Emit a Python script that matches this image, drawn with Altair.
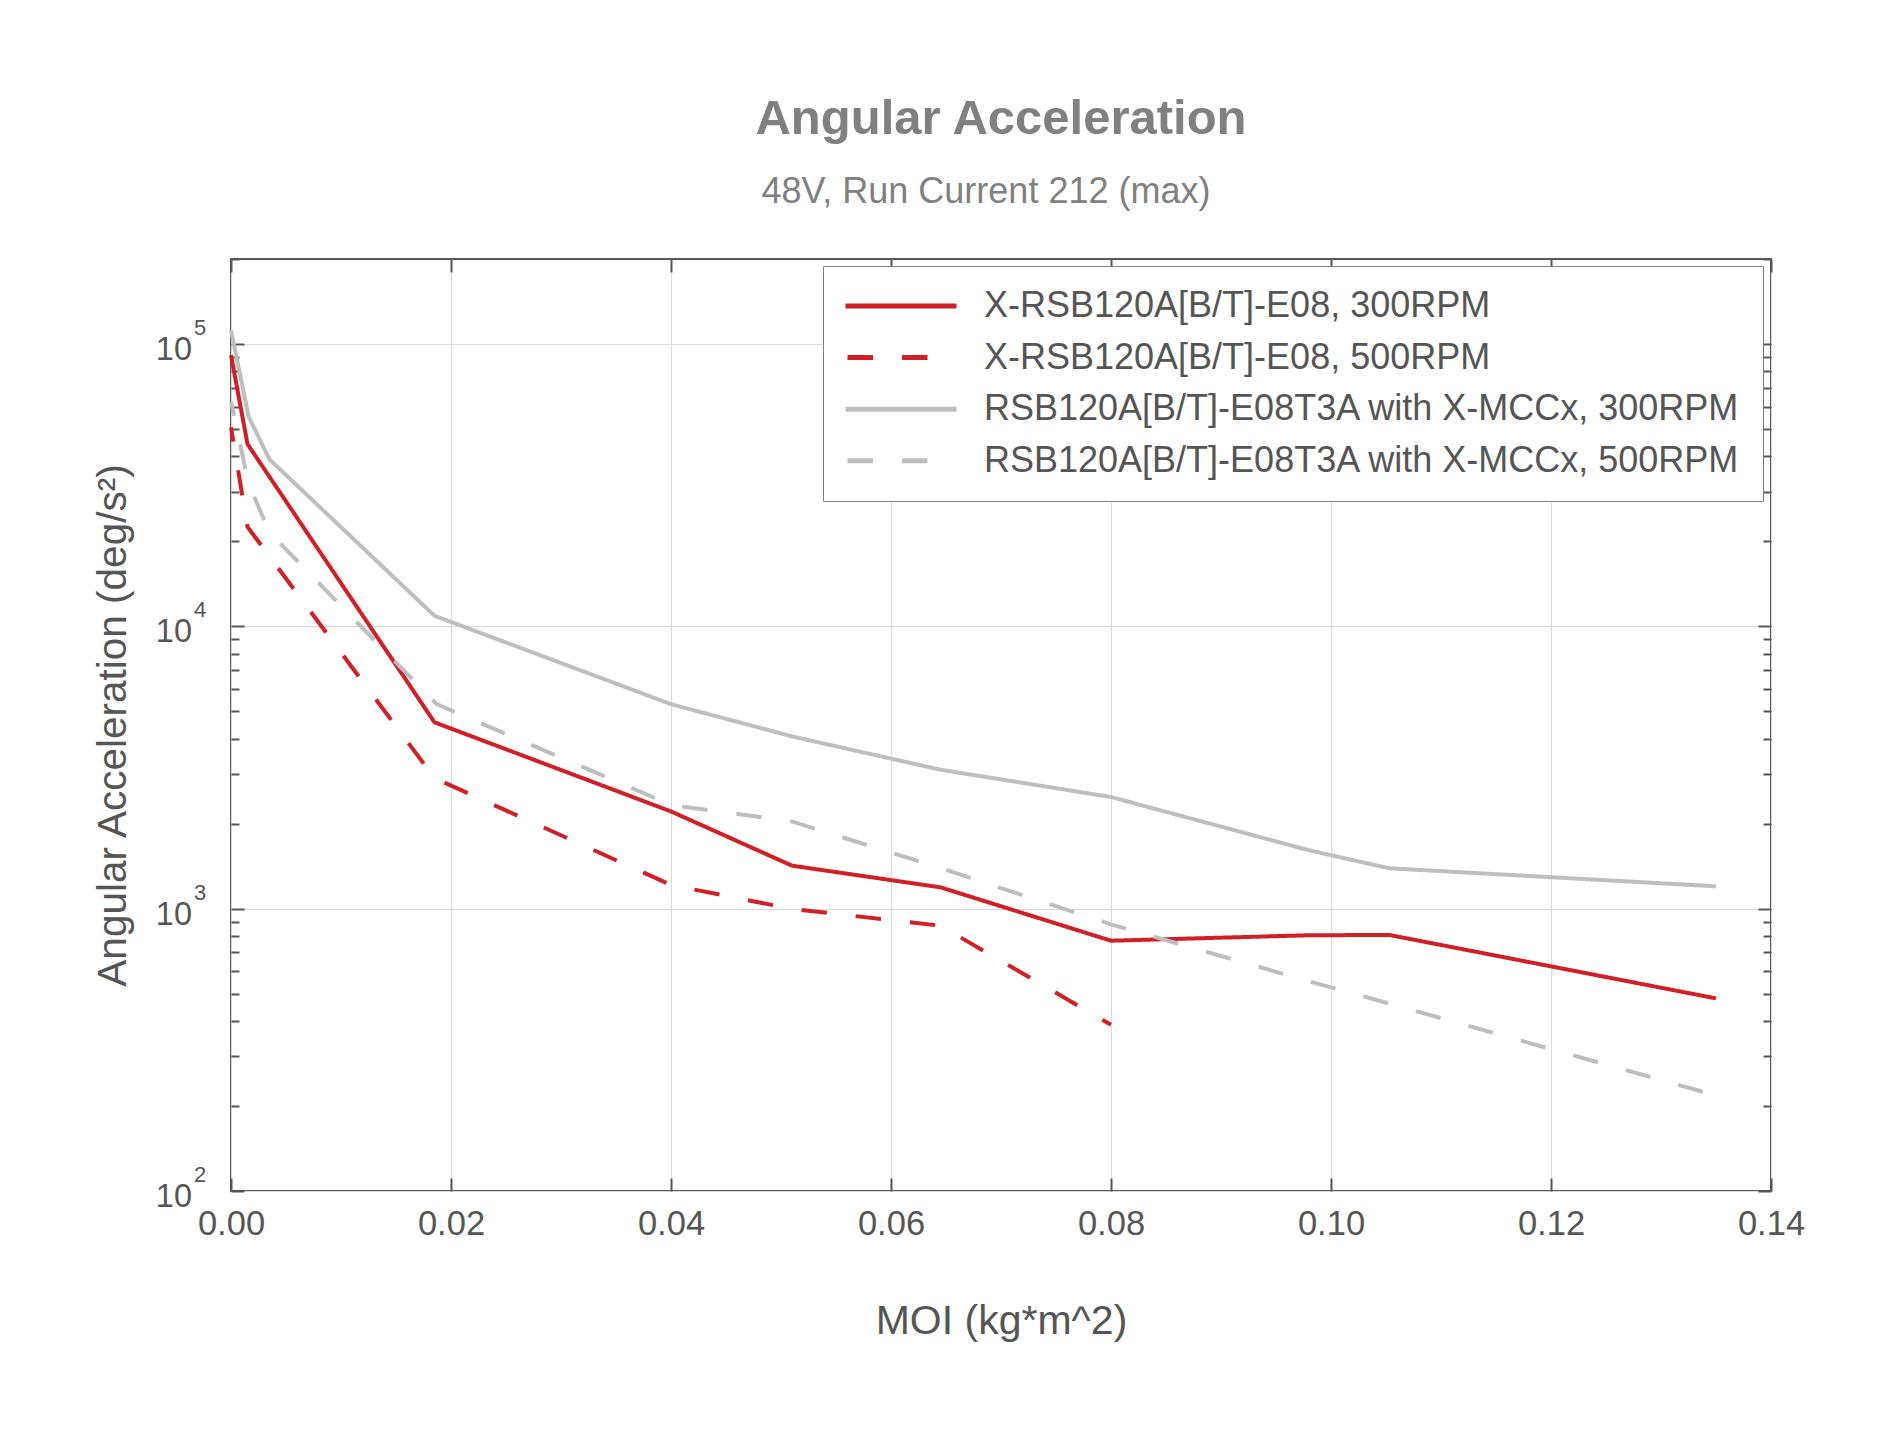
import altair as alt
import pandas as pd

# ---------------- data ----------------
series_names = [
    "X-RSB120A[B/T]-E08, 300RPM",
    "X-RSB120A[B/T]-E08, 500RPM",
    "RSB120A[B/T]-E08T3A with X-MCCx, 300RPM",
    "RSB120A[B/T]-E08T3A with X-MCCx, 500RPM",
]

moi_red300 = [0.0, 0.0015, 0.0185, 0.040, 0.051, 0.0645, 0.080, 0.098, 0.1053, 0.135]
acc_red300 = [91400, 44200, 4570, 2210, 1420, 1190, 770, 805, 807, 481]

moi_red500 = [0.0, 0.0015, 0.0185, 0.040, 0.051, 0.0645, 0.080]
acc_red500 = [50700, 22500, 2900, 1213, 998, 870, 388]

moi_grey300 = [0.0, 0.0016, 0.0035, 0.0185, 0.040, 0.051, 0.0645, 0.080, 0.098, 0.1053, 0.135]
acc_grey300 = [112000, 55300, 39000, 10900, 5300, 4075, 3105, 2486, 1610, 1390, 1200]

moi_grey500 = [0.0, 0.0016, 0.0035, 0.0187, 0.040, 0.051, 0.0645, 0.080, 0.098, 0.1053, 0.135]
acc_grey500 = [62500, 32000, 21500, 5300, 2330, 2037, 1393, 880, 553, 461, 218]

x_tick_values = [0.0, 0.02, 0.04, 0.06, 0.08, 0.10, 0.12, 0.14]
y_decades = [100, 1000, 10000, 100000]
y_exponents = ["2", "3", "4", "5"]
y_minor_mult = [1, 2, 3, 4, 5, 6, 7, 8, 9]

title_text = "Angular Acceleration"
subtitle_text = "48V, Run Current 212 (max)"
x_title = "MOI (kg*m^2)"
y_title = "Angular Acceleration (deg/s²)"

# ---------------- build tables ----------------
rows = []
for name, xs_, ys_ in zip(series_names,
                          [moi_red300, moi_red500, moi_grey300, moi_grey500],
                          [acc_red300, acc_red500, acc_grey300, acc_grey500]):
    for i, (xv, yv) in enumerate(zip(xs_, ys_)):
        rows.append({"series": name, "moi": xv, "acc": yv, "idx": i})
df = pd.DataFrame(rows)

df_dec = pd.DataFrame({"acc": y_decades, "exp": y_exponents, "base": ["10"] * 4})
df_sub = pd.DataFrame({"t": [subtitle_text]})

y_tick_values = [m * d for d in y_decades for m in y_minor_mult] + [200000]

W, H = 1540, 932
XDOM = [0, 0.14]
YDOM = [100, 200000]
FONT = "Liberation Sans"
DARK = "#555555"
GREY_TXT = "#808080"

colors = ["#d21f26", "#d21f26", "#bebebe", "#bebebe"]
dashes = [[1, 0], [25.5, 29], [1, 0], [25.5, 29]]

xs = alt.Scale(domain=XDOM, nice=False, zero=False)
ys = alt.Scale(type="log", domain=YDOM, nice=False)

major_test = "abs(log(datum.value)/LN10 - round(log(datum.value)/LN10)) < 0.001"
tick_size_cond = {"condition": {"test": major_test, "value": 13}, "value": 8}

legend = alt.Legend(
    title=None, orient="none", legendX=592, legendY=7,
    padding=22, strokeColor="#808080", fillColor="white",
    labelFont=FONT, labelFontSize=36, labelColor=DARK, labelLimit=1200,
    symbolType="M-5,0H5", symbolSize=493, symbolOffset=38,
    labelOffset=65, symbolStrokeWidth=5, rowPadding=15.6,
    symbolDashOffset=52.5,
)

lines = alt.Chart(df).mark_line(strokeWidth=4, strokeDashOffset=10.9).encode(
    x=alt.X("moi:Q", scale=xs, axis=alt.Axis(
        orient="bottom", title=x_title, values=x_tick_values, format=".2f",
        grid=True, gridColor="#dadada", gridWidth=1,
        ticks=False, tickSize=0, domain=False,
        labelFont=FONT, labelFontSize=34.5, labelColor=DARK,
        labelBaseline="alphabetic", labelPadding=43, labelFlush=False,
        titleFont=FONT, titleFontSize=41, titleColor=DARK, titleFontWeight="normal",
        titleBaseline="alphabetic", titleY=142, titleX=W / 2, titleAnchor="middle")),
    y=alt.Y("acc:Q", scale=ys, axis=alt.Axis(
        orient="left", title=y_title, values=y_decades,
        grid=True, gridColor="#dadada", gridWidth=1,
        ticks=False, tickSize=0, labels=False, domain=False,
        titleFont=FONT, titleFontSize=40.5, titleColor=DARK, titleFontWeight="normal",
        titleAngle=270, titleBaseline="alphabetic", titleX=-106, titleY=H / 2,
        titleAlign="center")),
    color=alt.Color("series:N", scale=alt.Scale(domain=series_names, range=colors),
                    sort=series_names, legend=legend),
    strokeDash=alt.StrokeDash("series:N", scale=alt.Scale(domain=series_names, range=dashes),
                              sort=series_names, legend=legend),
    order="idx:Q",
)

tick_axis_common = dict(labels=False, domain=False, grid=False, title=None,
                        tickColor=DARK, tickWidth=2)

# ticks pointing inward on the bottom and left edges
ticks_a = alt.Chart(df).mark_point(opacity=0).encode(
    x=alt.X("moi:Q", scale=xs, axis=alt.Axis(orient="top", offset=-H, values=x_tick_values,
                                             tickSize=13, **tick_axis_common)),
    y=alt.Y("acc:Q", scale=ys, axis=alt.Axis(orient="right", offset=-W, values=y_tick_values,
                                             tickSize=tick_size_cond, **tick_axis_common)),
)
# ticks pointing inward on the top and right edges
ticks_b = alt.Chart(df).mark_point(opacity=0).encode(
    x=alt.X("moi:Q", scale=xs, axis=alt.Axis(orient="bottom", offset=-H, values=x_tick_values,
                                             tickSize=13, **tick_axis_common)),
    y=alt.Y("acc:Q", scale=ys, axis=alt.Axis(orient="left", offset=-W, values=y_tick_values,
                                             tickSize=tick_size_cond, **tick_axis_common)),
)

ylab_base = alt.Chart(df_dec).mark_text(
    align="right", baseline="alphabetic", font=FONT, fontSize=32.5, color=DARK, dy=16
).encode(
    x=alt.value(-39),
    y=alt.Y("acc:Q", scale=ys, axis=None),
    text="base:N",
)
ylab_exp = alt.Chart(df_dec).mark_text(
    align="left", baseline="alphabetic", font=FONT, fontSize=22, color=DARK, dy=-9
).encode(
    x=alt.value(-37),
    y=alt.Y("acc:Q", scale=ys, axis=None),
    text="exp:N",
)

subtitle = alt.Chart(df_sub).mark_text(
    align="center", baseline="alphabetic", font=FONT, fontSize=36, color=GREY_TXT
).encode(
    x=alt.value(W / 2 - 15),
    y=alt.value(-56),
    text="t:N",
)

chart = alt.layer(lines, ticks_a, ticks_b, ylab_base, ylab_exp, subtitle).resolve_scale(
    x="independent", y="independent"
).properties(
    width=W, height=H,
    title=alt.TitleParams(
        text=title_text, anchor="middle", frame="group",
        font=FONT, fontSize=49, fontWeight="bold", color=GREY_TXT,
        offset=30,
    ),
    autosize=alt.AutoSizeParams(type="none"),
    padding={"left": 223, "top": 251, "right": 120, "bottom": 220},
).configure_view(
    stroke="#595959", strokeWidth=2
)

chart.save("out.html", embed_options={"renderer": "svg", "actions": False})
